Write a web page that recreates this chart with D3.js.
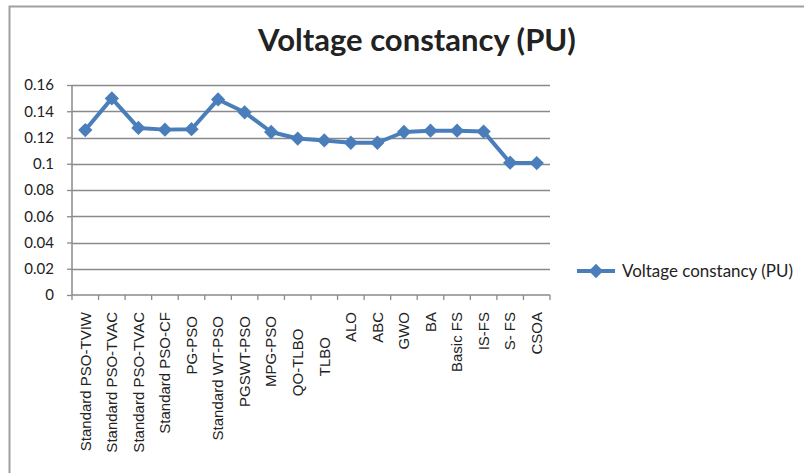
<!DOCTYPE html>
<html><head><meta charset="utf-8">
<script src="https://cdn.jsdelivr.net/npm/d3@7"></script>
<style>
html,body{margin:0;padding:0;background:#fff;}
svg{display:block;font-family:Lato,"Open Sans",sans-serif;}
text{white-space:pre;}
</style></head>
<body><svg id="c" width="804" height="473"></svg>
<script>
const categories = ["Standard PSO-TVIW","Standard PSO-TVAC","Standard PSO-TVAC","Standard PSO-CF","PG-PSO ","Standard WT-PSO ","PGSWT-PSO ","MPG-PSO ","QO-TLBO    ","TLBO      ","ALO","ABC","GWO","BA","Basic FS","IS-FS","S- FS","CSOA"];
const values = [0.1257,0.1498,0.1273,0.1260,0.1263,0.1490,0.1392,0.1242,0.1192,0.1178,0.1160,0.1160,0.1242,0.1252,0.1252,0.1245,0.1008,0.1005];
const yTicks = [0,0.02,0.04,0.06,0.08,0.1,0.12,0.14,0.16];
const seriesName = "Voltage constancy (PU)";
const title = "Voltage constancy (PU)";

const svg = d3.select("#c");
const blue = "#4a7ebb", grid = "#8a8a8a", txt = "#222";
const L = 72, R = 550, T = 85, B = 295;

// outer border
svg.append("path").attr("d", `M9.5,480 V6.5 H810`).attr("fill","none").attr("stroke","#a0a0a0").attr("stroke-width",2);

const x = d3.scaleBand().domain(d3.range(categories.length)).range([L,R]);
const y = d3.scaleLinear().domain([0,0.16]).range([B,T]);

// gridlines
svg.append("g").selectAll("line").data(yTicks.slice(1)).join("line")
  .attr("x1",L).attr("x2",R).attr("y1",d=>Math.round(y(d))+0.5).attr("y2",d=>Math.round(y(d))+0.5)
  .attr("stroke",grid).attr("stroke-width",1.3);

// y axis
const ya = svg.append("g").attr("transform",`translate(${L},0)`)
  .call(d3.axisLeft(y).tickValues(yTicks).tickFormat(d=>String(+d.toFixed(2))).tickSize(5).tickPadding(13));
ya.select(".domain").attr("stroke",grid).attr("stroke-width",1.5).attr("d",`M0,${T}V${B}`);
ya.selectAll(".tick line").attr("stroke",grid).attr("stroke-width",1.3);
ya.selectAll(".tick text").attr("font-size",15).attr("fill",txt).attr("font-family","Lato");

// x axis
const xa = svg.append("g").attr("transform",`translate(0,${B})`)
  .call(d3.axisBottom(x).tickFormat(i=>categories[i]).tickSize(0));
xa.select(".domain").attr("stroke",grid).attr("stroke-width",1.5).attr("d",`M${L},0H${R}`);
xa.selectAll(".tick text").attr("font-size",15).attr("fill",txt)
  .attr("transform","rotate(-90)").attr("text-anchor","end").attr("dy","0.35em").attr("x",-17).attr("y",0);
// tick marks at category boundaries
svg.append("g").selectAll("line").data(d3.range(categories.length+1)).join("line")
  .attr("x1",i=>L+i*x.step()).attr("x2",i=>L+i*x.step()).attr("y1",B).attr("y2",B+5)
  .attr("stroke",grid).attr("stroke-width",1.3);

// line
const cx = i=>x(i)+x.bandwidth()/2;
svg.append("path").datum(values)
  .attr("d", d3.line().x((d,i)=>cx(i)).y(d=>y(d)))
  .attr("fill","none").attr("stroke",blue).attr("stroke-width",4).attr("stroke-linejoin","round");
const diamond = d3.symbol().type(d3.symbolDiamond2).size(130);
svg.append("g").selectAll("path").data(values).join("path")
  .attr("d",diamond).attr("transform",(d,i)=>`translate(${cx(i)},${y(d)})`).attr("fill",blue);

// title
const tt = svg.append("text").attr("x",417).attr("y",51).attr("text-anchor","middle")
  .attr("font-weight","bold").attr("font-size",28).attr("fill",txt).text(title);
const tw = tt.node().getComputedTextLength();
tt.attr("font-size", 28*318/tw);

// legend
const ly = 271;
svg.append("line").attr("x1",577).attr("x2",615).attr("y1",ly).attr("y2",ly).attr("stroke",blue).attr("stroke-width",4);
svg.append("path").attr("d",diamond).attr("transform",`translate(596,${ly})`).attr("fill",blue);
const lt = svg.append("text").attr("x",622).attr("y",ly).attr("dy","0.35em").attr("font-size",15).attr("fill",txt).text(seriesName);
const lw = lt.node().getComputedTextLength();
lt.attr("font-size", 15*171/lw);
</script></body></html>
